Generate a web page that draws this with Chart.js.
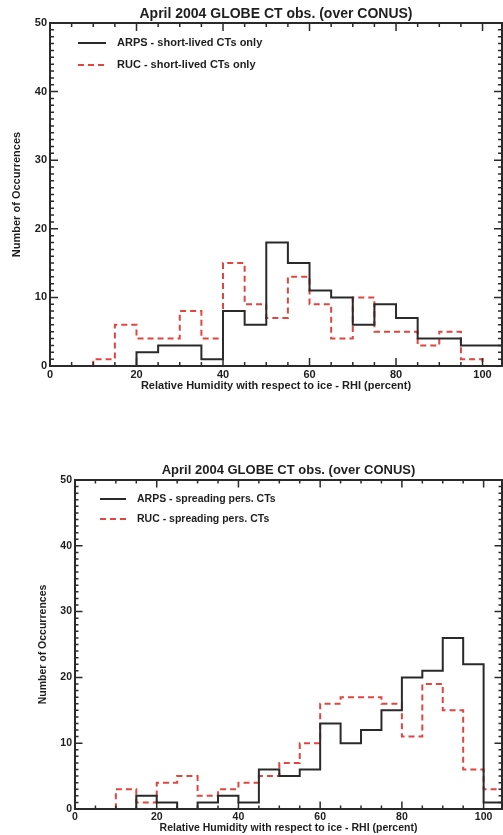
<!DOCTYPE html>
<html>
<head>
<meta charset="utf-8">
<title>April 2004 GLOBE CT obs. (over CONUS)</title>
<script src="https://cdn.jsdelivr.net/npm/chart.js@4.4.1/dist/chart.umd.min.js"></script>
<style>
  html, body { margin: 0; padding: 0; background: #fff; }
  body { width: 503px; height: 835px; position: relative; overflow: hidden; }
  canvas { position: absolute; left: 0; }
  #chart-short { top: 0; }
  #chart-spread { top: 420px; }
</style>
</head>
<body>
<canvas id="chart-short" width="503" height="400"></canvas>
<canvas id="chart-spread" width="503" height="415"></canvas>
<script>
// ---- data ----

// left edge of each RHI class (classes are 5 % wide)
const binEdges = [0, 5, 10, 15, 20, 25, 30, 35, 40, 45, 50, 55, 60, 65, 70, 75, 80, 85, 90, 95, 100];
const BIN_WIDTH = 5;

const titleText = 'April 2004 GLOBE CT obs. (over CONUS)';
const xAxisTitle = 'Relative Humidity with respect to ice - RHI (percent)';
const yAxisTitle = 'Number of Occurrences';
const xTickValues = [0, 20, 40, 60, 80, 100];
const yTickValues = [0, 10, 20, 30, 40, 50];

// top panel: short-lived contrails
const labelsShort = ['ARPS - short-lived CTs only', 'RUC - short-lived CTs only'];
const arpsShort = [0, 0, 0, 0, 2, 3, 3, 1, 8, 6, 18, 15, 11, 10, 6, 9, 7, 4, 4, 3, 3];
const rucShort = [0, 0, 1, 6, 4, 4, 8, 4, 15, 9, 7, 13, 9, 4, 10, 5, 5, 3, 5, 1, 0];
const arpsShortRange = [0, 105];
const rucShortRange = [7.5, 102.5];

// bottom panel: spreading persistent contrails
const labelsSpread = ['ARPS - spreading pers. CTs', 'RUC - spreading pers. CTs'];
const arpsSpread = [0, 0, 0, 2, 1, 0, 1, 2, 1, 6, 5, 6, 13, 10, 12, 15, 20, 21, 26, 22, 1];
const rucSpread = [0, 0, 3, 1, 4, 5, 2, 3, 4, 5, 7, 10, 16, 17, 17, 16, 11, 19, 15, 6, 3];
const arpsSpreadRange = [0, 105];
const rucSpreadRange = [7.5, 105];

const FONT = '"Liberation Sans", Arial, Helvetica, sans-serif';
const INK = '#1e1e1e';
const BLACK_LINE = '#2a2a2a';
const RED_LINE = '#e2453f';

/**
 * Turns class counts into step points (value held from each left edge)
 */
function stepPoints(counts, range) {
    const [xStart, xEnd] = range;
    const pts = [];
    binEdges.forEach((lo, i) => {
        if (lo + BIN_WIDTH <= xStart || lo >= xEnd) return;
        pts.push({ x: Math.max(lo, xStart), y: counts[i] });
    });
    pts.push({ x: xEnd, y: pts[pts.length - 1].y });
    return pts;
}

/**
 * Frame with inward ticks on all four sides (IDL style)
 */
const frameTicks = {
    id: 'frameTicks',
    afterDatasetsDraw(chart, args, o) {
        const { ctx, chartArea: a, scales: { x, y } } = chart;
        ctx.save();
        ctx.strokeStyle = o.color;
        ctx.lineWidth = o.width;
        ctx.beginPath();
        for (let v = 0; v <= x.max; v += 5) {
            const px = x.getPixelForValue(v);
            const len = v % 20 === 0 ? o.major : o.minor;
            ctx.moveTo(px, a.bottom); ctx.lineTo(px, a.bottom - len);
            ctx.moveTo(px, a.top); ctx.lineTo(px, a.top + len);
        }
        for (let v = 0; v <= y.max; v += 1) {
            const py = y.getPixelForValue(v);
            const len = v % 10 === 0 ? o.major : o.minor;
            ctx.moveTo(a.left, py); ctx.lineTo(a.left + len, py);
            ctx.moveTo(a.right, py); ctx.lineTo(a.right - len, py);
        }
        ctx.stroke();
        ctx.lineWidth = o.width + 0.5;
        ctx.strokeRect(a.left, a.top, a.right - a.left, a.bottom - a.top);
        ctx.restore();
    }
};

/**
 * Panel title centred over the plot area
 */
const panelTitle = {
    id: 'panelTitle',
    afterDraw(chart, args, o) {
        const { ctx, chartArea: a } = chart;
        ctx.save();
        ctx.font = `bold ${o.size}px ${FONT}`;
        ctx.fillStyle = INK;
        ctx.textAlign = 'center';
        ctx.textBaseline = 'middle';
        ctx.fillText(o.text, (a.left + a.right) / 2, o.y);
        ctx.restore();
    }
};

/**
 * Legend inside the plot area, built from the datasets
 */
const panelLegend = {
    id: 'panelLegend',
    afterDraw(chart, args, o) {
        const { ctx, chartArea: a } = chart;
        ctx.save();
        ctx.font = `bold ${o.size}px ${FONT}`;
        ctx.textBaseline = 'middle';
        chart.data.datasets.forEach((ds, i) => {
            const yy = a.top + o.top + i * o.gap;
            ctx.strokeStyle = ds.borderColor;
            ctx.lineWidth = ds.borderWidth;
            ctx.setLineDash(ds.borderDash || []);
            ctx.beginPath();
            ctx.moveTo(a.left + o.lineStart, yy);
            ctx.lineTo(a.left + o.lineEnd, yy);
            ctx.stroke();
            ctx.setLineDash([]);
            ctx.fillStyle = INK;
            ctx.fillText(ds.label, a.left + o.textX, yy);
        });
        ctx.restore();
    }
};

/**
 * Builds one histogram panel
 */
function makePanel(canvasId, labels, arps, rucs, g) {
    const datasets = [
        { label: labels[0], data: arps, borderColor: BLACK_LINE, borderWidth: 2, borderDash: [] },
        { label: labels[1], data: rucs, borderColor: RED_LINE, borderWidth: 2, borderDash: [6, 4] }
    ].map(d => ({ ...d, stepped: true, pointRadius: 0, fill: false, tension: 0 }));

    return new Chart(document.getElementById(canvasId), {
        type: 'line',
        data: { datasets },
        options: {
            responsive: false,
            animation: false,
            layout: { padding: { top: g.padTop, right: 1, left: 0, bottom: 0 } },
            plugins: {
                legend: { display: false },
                tooltip: { enabled: false },
                panelTitle: { text: titleText, size: g.titleSize, y: g.titleY },
                panelLegend: g.legend,
                frameTicks: { color: '#2a2a2a', width: 1.5, major: g.major, minor: g.minor }
            },
            scales: {
                x: {
                    type: 'linear',
                    min: 0,
                    max: 104.5,
                    afterBuildTicks: s => { s.ticks = xTickValues.map(v => ({ value: v })); },
                    afterFit: s => { s.height = g.xHeight; },
                    grid: { display: false, drawTicks: false },
                    border: { display: false },
                    ticks: {
                        autoSkip: false, maxRotation: 0, padding: g.xTickPad, color: INK,
                        font: { family: FONT, weight: 'bold', size: g.tickSize, lineHeight: 1 }
                    },
                    title: {
                        display: true, text: xAxisTitle, color: INK,
                        padding: { top: 0, bottom: g.xTitlePad },
                        font: { family: FONT, weight: 'bold', size: g.axisSize, lineHeight: 1 }
                    }
                },
                y: {
                    min: 0,
                    max: 50,
                    afterBuildTicks: s => { s.ticks = yTickValues.map(v => ({ value: v })); },
                    afterFit: s => { s.width = g.yWidth; },
                    grid: { display: false, drawTicks: false },
                    border: { display: false },
                    ticks: {
                        padding: 3, color: INK,
                        font: { family: FONT, weight: 'bold', size: g.tickSize, lineHeight: 1 }
                    },
                    title: {
                        display: true, text: yAxisTitle, color: INK,
                        padding: { top: g.yTitlePad, bottom: 0 },
                        font: { family: FONT, weight: 'bold', size: g.axisSize, lineHeight: 1 }
                    }
                }
            }
        },
        plugins: [frameTicks, panelTitle, panelLegend]
    });
}

makePanel('chart-short', labelsShort,
    stepPoints(arpsShort, arpsShortRange), stepPoints(rucShort, rucShortRange), {
        padTop: 23, xHeight: 34, yWidth: 50,
        titleSize: 14, titleY: 14, tickSize: 11, axisSize: 11,
        xTickPad: 3.5, xTitlePad: 8.5, yTitlePad: 11.5,
        major: 8, minor: 4,
        legend: { size: 11, top: 20, gap: 22, lineStart: 28, lineEnd: 56, textX: 67 }
    });

makePanel('chart-spread', labelsSpread,
    stepPoints(arpsSpread, arpsSpreadRange), stepPoints(rucSpread, rucSpreadRange), {
        padTop: 60, xHeight: 26, yWidth: 75,
        titleSize: 13, titleY: 50, tickSize: 10.5, axisSize: 10.5,
        xTickPad: 2.75, xTitlePad: 2, yTitlePad: 37.5,
        major: 7.5, minor: 3.5,
        legend: { size: 10.5, top: 19, gap: 20, lineStart: 25, lineEnd: 51, textX: 62 }
    });
</script>
</body>
</html>
